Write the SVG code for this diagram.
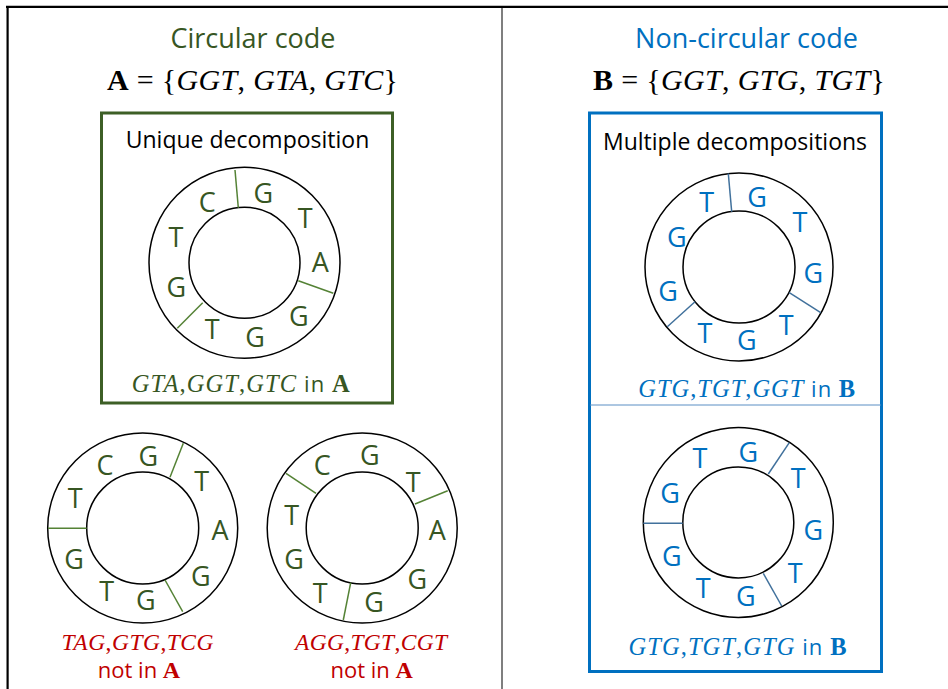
<svg xmlns="http://www.w3.org/2000/svg" width="948" height="689" viewBox="0 0 948 689">
  <style>
    .frame { stroke: #000; stroke-width: 2.2; fill: none; }
    .split { stroke: #7f7f7f; stroke-width: 2; }
    .ring { fill: none; stroke: #000; stroke-width: 1.5; }
    .cutG { stroke: #548235; stroke-width: 1.5; }
    .cutB { stroke: #41719c; stroke-width: 1.5; }
    .sans { font-family: "Open Sans", "Liberation Sans", sans-serif; font-style: normal; font-weight: normal; }
    .nt { font-family: "Open Sans", "Liberation Sans", sans-serif; font-size: 27px; text-anchor: middle; }
    .math { font-family: "Liberation Serif", "DejaVu Serif", serif; text-anchor: middle; }
    .it { font-style: italic; }
    .bf { font-weight: bold; font-style: normal; }
    .green { fill: #375623; }
    .blue { fill: #0070c0; }
    .red { fill: #c00000; }
    .black { fill: #000; }
  </style>

  <!-- page frame and column split -->
  <g id="frame">
    <line class="frame" x1="6" y1="6.8" x2="948" y2="6.8"/>
    <line class="frame" x1="7.6" y1="6" x2="7.6" y2="689"/>
    <line class="split" x1="502" y1="8" x2="502" y2="689"/>
  </g>

  <!-- left column: circular code -->
  <g id="title-a">
    <text class="sans green" x="253" y="48" font-size="27" text-anchor="middle">Circular code</text>
    <text class="math black" x="252.5" y="90" font-size="30" textLength="291" lengthAdjust="spacing"><tspan class="bf">A</tspan> = {<tspan class="it">GGT</tspan>, <tspan class="it">GTA</tspan>, <tspan class="it">GTC</tspan>}</text>
  </g>

  <g id="box-a">
    <rect x="101.5" y="113" width="291" height="290" fill="none" stroke="#3d5f26" stroke-width="3"/>
    <text class="sans black" x="247.5" y="148" font-size="23" text-anchor="middle">Unique decomposition</text>
  </g>

  <g id="ring-a1">
    <circle class="ring" cx="244.5" cy="262.8" r="95.5"/>
    <circle class="ring" cx="244.5" cy="262.8" r="55.5"/>
    <g class="nt green" transform="translate(0,0.9)">
      <text x="263.3" y="202.5">G</text>
      <text x="305.3" y="227.1">T</text>
      <text x="320.3" y="271.1">A</text>
      <text x="298.7" y="324.8">G</text>
      <text x="255" y="345.8">G</text>
      <text x="212.3" y="338.5">T</text>
      <text x="176.3" y="296.1">G</text>
      <text x="176" y="246.5">T</text>
      <text x="207.3" y="211.1">C</text>
    </g>
    <text class="math green" x="240.8" y="391.7" font-size="24.5" textLength="218" lengthAdjust="spacing"><tspan class="it">GTA</tspan>,<tspan class="it">GGT</tspan>,<tspan class="it">GTC</tspan><tspan class="sans" font-size="22"> in </tspan><tspan class="bf">A</tspan></text>
  </g>

  <g id="ring-a2">
    <circle class="ring" cx="142.7" cy="528" r="95"/>
    <circle class="ring" cx="142.7" cy="528" r="56"/>
    <g class="nt green" transform="translate(0,0.9)">
      <text x="148.3" y="465.5">G</text>
      <text x="201.7" y="490.5">T</text>
      <text x="220" y="538.8">A</text>
      <text x="200.7" y="585.5">G</text>
      <text x="145.7" y="609.5">G</text>
      <text x="106.7" y="600.5">T</text>
      <text x="74" y="567.8">G</text>
      <text x="75.3" y="507.1">T</text>
      <text x="105" y="474.5">C</text>
    </g>
    <text class="math red" x="137.5" y="650" font-size="23.5" textLength="152" lengthAdjust="spacing"><tspan class="it">TAG</tspan>,<tspan class="it">GTG</tspan>,<tspan class="it">TCG</tspan></text>
    <text class="math red" x="139" y="678" font-size="24"><tspan class="sans" font-size="22">not in </tspan><tspan class="bf">A</tspan></text>
  </g>

  <g id="ring-a3">
    <circle class="ring" cx="362.2" cy="528" r="95"/>
    <circle class="ring" cx="362.2" cy="528" r="56"/>
    <g class="nt green" transform="translate(0,0.9)">
      <text x="369.7" y="464.5">G</text>
      <text x="413.3" y="491.1">T</text>
      <text x="437.3" y="538.8">A</text>
      <text x="417.3" y="587.8">G</text>
      <text x="374" y="611.1">G</text>
      <text x="320.3" y="602.1">T</text>
      <text x="294" y="567.8">G</text>
      <text x="291.7" y="523.8">T</text>
      <text x="322.3" y="474.5">C</text>
    </g>
    <text class="math red" x="371" y="650" font-size="23.5" textLength="152" lengthAdjust="spacing"><tspan class="it">AGG</tspan>,<tspan class="it">TGT</tspan>,<tspan class="it">CGT</tspan></text>
    <text class="math red" x="371.7" y="678" font-size="24"><tspan class="sans" font-size="22">not in </tspan><tspan class="bf">A</tspan></text>
  </g>

  <!-- right column: non-circular code -->
  <g id="title-b">
    <text class="sans blue" x="746.5" y="48" font-size="27" text-anchor="middle">Non-circular code</text>
    <text class="math black" x="739" y="90" font-size="30" textLength="292" lengthAdjust="spacing"><tspan class="bf">B</tspan> = {<tspan class="it">GGT</tspan>, <tspan class="it">GTG</tspan>, <tspan class="it">TGT</tspan>}</text>
  </g>

  <g id="box-b">
    <rect x="589.5" y="113" width="292" height="558.5" fill="none" stroke="#0070c0" stroke-width="3"/>
    <line x1="590" y1="405" x2="881" y2="405" stroke="#5b8fc4" stroke-width="1"/>
    <text class="sans black" x="735" y="150" font-size="23" text-anchor="middle">Multiple decompositions</text>
  </g>

  <g id="ring-b1">
    <circle class="ring" cx="739" cy="267" r="94"/>
    <circle class="ring" cx="739" cy="267" r="56"/>
    <g class="nt blue" transform="translate(0,0.9)">
      <text x="706.7" y="211.5">T</text>
      <text x="757" y="206.1">G</text>
      <text x="800" y="231.5">T</text>
      <text x="813.3" y="282.1">G</text>
      <text x="786.3" y="334.5">T</text>
      <text x="746.7" y="349.5">G</text>
      <text x="705" y="342.1">T</text>
      <text x="668" y="299.8">G</text>
      <text x="676.7" y="246.5">G</text>
    </g>
    <text class="math blue" x="746.7" y="397" font-size="24.5" textLength="217" lengthAdjust="spacing"><tspan class="it">GTG</tspan>,<tspan class="it">TGT</tspan>,<tspan class="it">GGT</tspan><tspan class="sans" font-size="22"> in </tspan><tspan class="bf">B</tspan></text>
  </g>

  <g id="ring-b2">
    <circle class="ring" cx="738.3" cy="522.4" r="95"/>
    <circle class="ring" cx="738.3" cy="522.4" r="55.5"/>
    <g class="nt blue" transform="translate(0,0.9)">
      <text x="700" y="467.1">T</text>
      <text x="748.3" y="460.8">G</text>
      <text x="798.3" y="487.1">T</text>
      <text x="813.3" y="538.8">G</text>
      <text x="795.3" y="582.1">T</text>
      <text x="745.7" y="604.8">G</text>
      <text x="703.3" y="597.5">T</text>
      <text x="671.7" y="565.5">G</text>
      <text x="670" y="502.1">G</text>
    </g>
    <text class="math blue" x="737.5" y="655" font-size="24.5" textLength="218" lengthAdjust="spacing"><tspan class="it">GTG</tspan>,<tspan class="it">TGT</tspan>,<tspan class="it">GTG</tspan><tspan class="sans" font-size="22"> in </tspan><tspan class="bf">B</tspan></text>
  </g>

  <!-- codon boundaries across the rings -->
  <g id="connectors">
    <line class="cutG" x1="235" y1="170" x2="238.3" y2="207.7"/>
    <line class="cutG" x1="298.3" y1="280.7" x2="333.3" y2="293.3"/>
    <line class="cutG" x1="202.7" y1="302.7" x2="177.3" y2="328.3"/>

    <line class="cutG" x1="183.3" y1="443.3" x2="170" y2="477.3"/>
    <line class="cutG" x1="48" y1="528.3" x2="86.7" y2="528.3"/>
    <line class="cutG" x1="165" y1="580" x2="182.7" y2="611.7"/>

    <line class="cutG" x1="286" y1="473.3" x2="316" y2="493.3"/>
    <line class="cutG" x1="447.7" y1="490.7" x2="415" y2="504"/>
    <line class="cutG" x1="350.7" y1="582.7" x2="343.3" y2="620"/>

    <line class="cutB" x1="728.3" y1="173.5" x2="731.7" y2="211.7"/>
    <line class="cutB" x1="789.3" y1="292.7" x2="820.7" y2="312.7"/>
    <line class="cutB" x1="695" y1="301.7" x2="667.3" y2="326.7"/>

    <line class="cutB" x1="789.3" y1="442.7" x2="768.3" y2="474"/>
    <line class="cutB" x1="643.3" y1="523.3" x2="682.7" y2="523.3"/>
    <line class="cutB" x1="763.3" y1="573.3" x2="781.7" y2="606"/>
  </g>
</svg>
